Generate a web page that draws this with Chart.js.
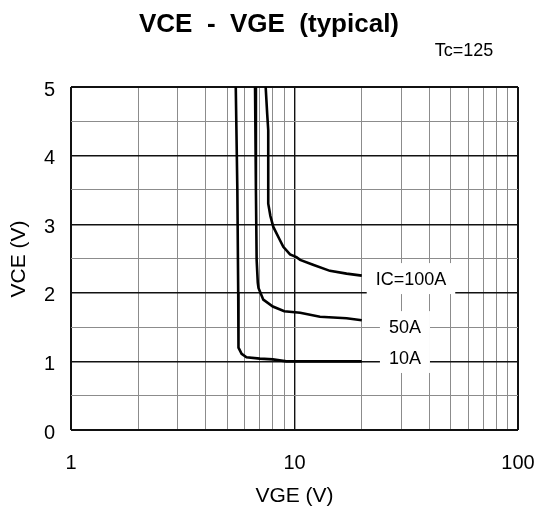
<!DOCTYPE html>
<html lang="en">
<head>
<meta charset="UTF-8">
<title>VCE - VGE (typical)</title>
<script src="https://cdn.jsdelivr.net/npm/chart.js"></script>
<style>
  body { margin: 0; background: #fff; }
  #wrap { width: 539px; height: 514px; }
</style>
</head>
<body>
<div id="wrap"><canvas id="vceChart" width="539" height="514"></canvas></div>
<script>
// IC = 100A
const vge100 = [7.43, 7.55, 7.63, 7.63, 7.8, 8.04, 8.6, 8.91, 9.55, 10.2, 10.6, 12.1, 14.4, 17.1, 20];
const vce100 = [5.0, 4.6, 4.37, 3.3, 3.12, 2.96, 2.77, 2.67, 2.56, 2.52, 2.48, 2.41, 2.32, 2.28, 2.25];
// IC = 50A
const vge50 = [6.66, 6.72, 6.77, 6.85, 6.9, 7.25, 8.0, 9.0, 10.6, 13.0, 17.1, 20];
const vce50 = [5.0, 3.5, 2.48, 2.15, 2.07, 1.9, 1.8, 1.73, 1.71, 1.65, 1.63, 1.60];
// IC = 10A
const vge10 = [5.46, 5.55, 5.6, 5.6, 5.63, 5.8, 6.1, 7.0, 8.0, 9.2, 12, 20];
const vce10 = [5.0, 3.5, 2.0, 1.4, 1.2, 1.11, 1.06, 1.04, 1.03, 1.0, 1.0, 1.0];

const xGrid = [1, 2, 3, 4, 5, 6, 7, 8, 9, 10, 20, 30, 40, 50, 60, 70, 80, 90, 100];
const xLabels = [1, 10, 100];

const curveNames = ['IC=100A', '50A', '10A'];
const tagVge = [33.2, 31.2, 31.2];
const tagVce = [2.20, 1.50, 1.05];

const FONT = '"Liberation Sans", Arial, sans-serif';

function toPoints(xs, ys) {
  return xs.map((x, i) => ({ x: x, y: ys[i] }));
}

function curve(xs, ys) {
  return {
    data: toPoints(xs, ys),
    borderColor: '#000',
    borderWidth: 2.6,
    pointRadius: 0,
    fill: false,
    tension: 0
  };
}

// white boxes behind the current labels, then the labels
const curveTags = {
  id: 'curveTags',
  beforeDatasetsDraw(chart) {
    const ctx = chart.ctx;
    const xs = chart.scales.x, ys = chart.scales.y;
    ctx.save();
    ctx.font = '18px ' + FONT;
    curveNames.forEach((name, i) => {
      const cx = xs.getPixelForValue(tagVge[i]);
      const cy = ys.getPixelForValue(tagVce[i]);
      const w = ctx.measureText(name).width + 18;
      ctx.fillStyle = '#fff';
      ctx.fillRect(cx - w / 2, cy - 16, w, 31);
    });
    ctx.restore();
  },
  afterDatasetsDraw(chart) {
    const ctx = chart.ctx;
    const xs = chart.scales.x, ys = chart.scales.y;
    ctx.save();
    ctx.font = '18px ' + FONT;
    ctx.fillStyle = '#000';
    ctx.textAlign = 'center';
    ctx.textBaseline = 'middle';
    curveNames.forEach((name, i) => {
      ctx.fillText(name, xs.getPixelForValue(tagVge[i]), ys.getPixelForValue(tagVce[i]) + 1);
    });
    ctx.restore();
  }
};

// title, condition note and axis titles
const headings = {
  id: 'headings',
  afterDraw(chart) {
    const ctx = chart.ctx;
    ctx.save();
    ctx.fillStyle = '#000';
    ctx.textAlign = 'center';
    ctx.textBaseline = 'alphabetic';
    ctx.font = 'bold 26px ' + FONT;
    ctx.fillText('VCE  -  VGE  (typical)', 269, 32);
    ctx.font = '18px ' + FONT;
    ctx.fillText('Tc=125', 464, 56);
    ctx.font = '21px ' + FONT;
    ctx.fillText('VGE (V)', 294.5, 501.5);
    ctx.translate(25, 259);
    ctx.rotate(-Math.PI / 2);
    ctx.fillText('VCE (V)', 0, 0);
    ctx.restore();
  }
};

function gridColor(major) {
  return c => major(c.tick.value) ? '#111' : '#8c8c8c';
}

new Chart(document.getElementById('vceChart'), {
  type: 'line',
  data: {
    datasets: [curve(vge100, vce100), curve(vge50, vce50), curve(vge10, vce10)]
  },
  options: {
    responsive: false,
    animation: false,
    layout: { padding: { top: 87, right: 21, left: 0, bottom: 0 } },
    plugins: { legend: { display: false }, tooltip: { enabled: false } },
    scales: {
      x: {
        type: 'logarithmic',
        min: 1,
        max: 100,
        afterBuildTicks: s => { s.ticks = xGrid.map(v => ({ value: v })); },
        afterFit: s => { s.height = 84; s.paddingLeft = 0; s.paddingRight = 0; },
        border: { display: false },
        grid: {
          drawTicks: false,
          color: gridColor(v => xLabels.includes(v)),
          lineWidth: c => (c.tick.value === 1 || c.tick.value === 100) ? 2 : (c.tick.value === 10 ? 1.4 : 1)
        },
        ticks: {
          autoSkip: false,
          maxRotation: 0,
          padding: 21,
          color: '#000',
          font: { family: FONT, size: 20 },
          callback: v => xLabels.includes(v) ? String(v) : ''
        }
      },
      y: {
        min: 0,
        max: 5,
        afterFit: s => { s.width = 71; },
        border: { display: false },
        grid: {
          drawTicks: false,
          color: gridColor(v => Number.isInteger(v)),
          lineWidth: c => (c.tick.value === 0 || c.tick.value === 5) ? 2 : (Number.isInteger(c.tick.value) ? 1.4 : 1)
        },
        ticks: {
          stepSize: 0.5,
          autoSkip: false,
          padding: 16,
          labelOffset: 3,
          color: '#000',
          font: { family: FONT, size: 20 },
          callback: v => Number.isInteger(v) ? String(v) : ''
        }
      }
    }
  },
  plugins: [curveTags, headings]
});
</script>
</body>
</html>
